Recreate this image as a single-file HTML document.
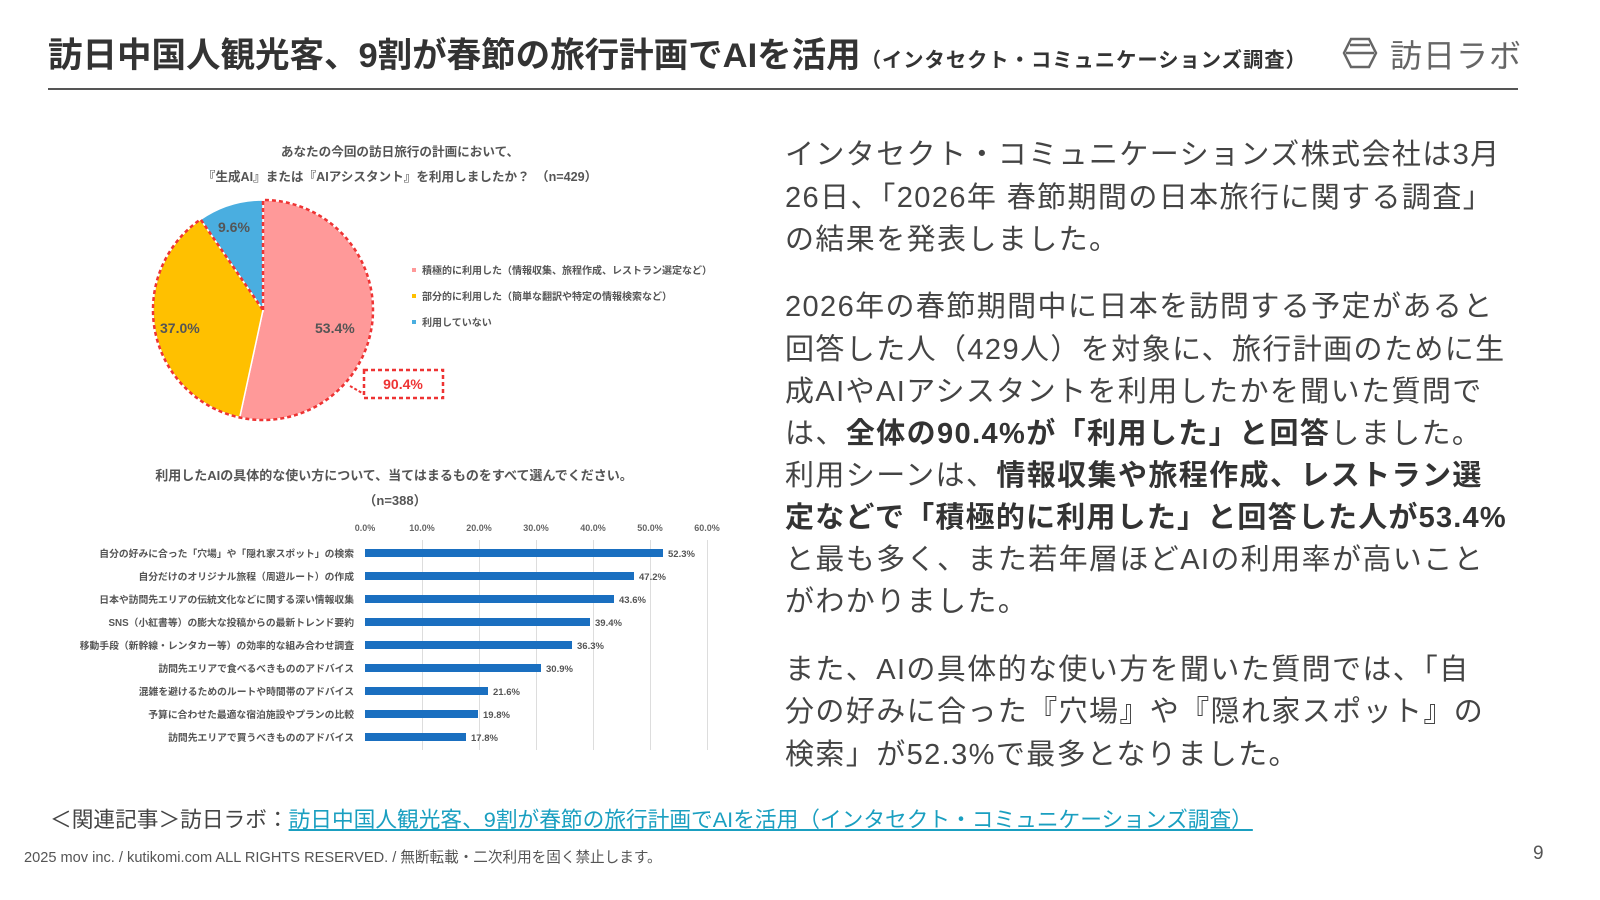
<!DOCTYPE html>
<html><head><meta charset="utf-8"><style>
body{margin:0;width:1600px;height:900px;background:#fff;position:relative;overflow:hidden;font-family:"Liberation Sans","Noto Sans CJK JP",sans-serif;color:#333}
.abs{position:absolute;white-space:nowrap}
.t{font-size:29px;color:#444;letter-spacing:1.4px;left:785px}
b{color:#333}
</style></head><body>
<div class="abs" style="left:48px;top:27px;font-size:34.5px;font-weight:bold;color:#333">訪日中国人観光客、9割が春節の旅行計画でAIを活用<span style="font-size:20.3px;letter-spacing:1px">（インタセクト・コミュニケーションズ調査）</span></div>
<svg class="abs" style="left:1342px;top:36px" width="36" height="34"><path d="M9 3H27L34 17L27 31H9L2 17Z M4 17H32 M8 9H28" fill="none" stroke="#666" stroke-width="2.5"/></svg>
<div class="abs" style="left:1390px;top:31px;font-size:32px;color:#666;letter-spacing:1px">訪日ラボ</div>
<div class="abs" style="left:48px;top:88px;width:1470px;height:2px;background:#555"></div>

<svg class="abs" style="left:0;top:0" width="760" height="780">
<g font-family="Liberation Sans,Noto Sans CJK JP,sans-serif" font-weight="bold" fill="#555">
<text x="400" y="156" font-size="12.6" text-anchor="middle">あなたの今回の訪日旅行の計画において、</text>
<text x="400" y="181" font-size="12.6" text-anchor="middle">『生成AI』または『AIアシスタント』を利用しましたか？　（n=429）</text>
</g>
<path d="M263 310L263 200A110 110 0 1 1 239.7 417.5Z" fill="#ff9999" stroke="#fff" stroke-width="1.5"/>
<path d="M263 310L239.7 417.5A110 110 0 0 1 200.6 219.4Z" fill="#ffc000" stroke="#fff" stroke-width="1.5"/>
<path d="M263 310L200.6 219.4A110 110 0 0 1 263 200Z" fill="#4aaee0" stroke="#fff" stroke-width="1.5"/>
<path d="M263 310L263 200A110 110 0 1 1 200.6 219.4Z" fill="none" stroke="#ee3333" stroke-width="2.5" stroke-dasharray="4 3"/>
<rect x="364" y="370" width="79" height="28" fill="#fff" stroke="#ee3333" stroke-width="2.5" stroke-dasharray="4 3"/>
<path d="M350 386L364 394" stroke="#ee3333" stroke-width="2" stroke-dasharray="3 2"/>
<g font-family="Liberation Sans,sans-serif" font-weight="bold" font-size="14">
<text x="403" y="389" fill="#ee3333" text-anchor="middle">90.4%</text>
<text x="315" y="333" fill="#555">53.4%</text>
<text x="160" y="333" fill="#555">37.0%</text>
<text x="218" y="232" fill="#555">9.6%</text>
</g>
<g font-family="Liberation Sans,Noto Sans CJK JP,sans-serif" font-size="10" fill="#555" font-weight="bold">
<rect x="412" y="268" width="4" height="4" fill="#ff9999"/><text x="422" y="274">積極的に利用した（情報収集、旅程作成、レストラン選定など）</text>
<rect x="412" y="294" width="4" height="4" fill="#ffc000"/><text x="422" y="300">部分的に利用した（簡単な翻訳や特定の情報検索など）</text>
<rect x="412" y="320" width="4" height="4" fill="#4aaee0"/><text x="422" y="326">利用していない</text>
</g>
<g font-family="Liberation Sans,Noto Sans CJK JP,sans-serif" font-weight="bold" fill="#555">
<text x="394" y="480" font-size="13" text-anchor="middle">利用したAIの具体的な使い方について、当てはまるものをすべて選んでください。</text>
<text x="395" y="505" font-size="13" text-anchor="middle">（n=388）</text>
</g>
<g stroke="#ddd" stroke-width="1">
<line x1="422.5" y1="540" x2="422.5" y2="750"/><line x1="479.5" y1="540" x2="479.5" y2="750"/><line x1="536.5" y1="540" x2="536.5" y2="750"/><line x1="593.5" y1="540" x2="593.5" y2="750"/><line x1="650.5" y1="540" x2="650.5" y2="750"/><line x1="707.5" y1="540" x2="707.5" y2="750"/>
</g>
<g font-family="Liberation Sans,sans-serif" font-size="9" fill="#666" font-weight="bold" text-anchor="middle">
<text x="365" y="531">0.0%</text><text x="422" y="531">10.0%</text><text x="479" y="531">20.0%</text><text x="536" y="531">30.0%</text><text x="593" y="531">40.0%</text><text x="650" y="531">50.0%</text><text x="707" y="531">60.0%</text>
</g>
<g fill="#1a6fc0">
<rect x="365" y="549" width="298" height="8"/><rect x="365" y="572" width="269" height="8"/><rect x="365" y="595" width="249" height="8"/><rect x="365" y="618" width="225" height="8"/><rect x="365" y="641" width="207" height="8"/><rect x="365" y="664" width="176" height="8"/><rect x="365" y="687" width="123" height="8"/><rect x="365" y="710" width="113" height="8"/><rect x="365" y="733" width="101" height="8"/>
</g>
<g font-family="Liberation Sans,sans-serif" font-size="9.5" fill="#555" font-weight="bold">
<text x="668" y="557">52.3%</text><text x="639" y="580">47.2%</text><text x="619" y="603">43.6%</text><text x="595" y="626">39.4%</text><text x="577" y="649">36.3%</text><text x="546" y="672">30.9%</text><text x="493" y="695">21.6%</text><text x="483" y="718">19.8%</text><text x="471" y="741">17.8%</text>
</g>
<g font-family="Liberation Sans,Noto Sans CJK JP,sans-serif" font-size="9.8" fill="#555" font-weight="bold" text-anchor="end">
<text x="354" y="557">自分の好みに合った「穴場」や「隠れ家スポット」の検索</text>
<text x="354" y="580">自分だけのオリジナル旅程（周遊ルート）の作成</text>
<text x="354" y="603">日本や訪問先エリアの伝統文化などに関する深い情報収集</text>
<text x="354" y="626">SNS（小紅書等）の膨大な投稿からの最新トレンド要約</text>
<text x="354" y="649">移動手段（新幹線・レンタカー等）の効率的な組み合わせ調査</text>
<text x="354" y="672">訪問先エリアで食べるべきもののアドバイス</text>
<text x="354" y="695">混雑を避けるためのルートや時間帯のアドバイス</text>
<text x="354" y="718">予算に合わせた最適な宿泊施設やプランの比較</text>
<text x="354" y="741">訪問先エリアで買うべきもののアドバイス</text>
</g>
</svg>

<div class="abs t" style="top:131px">インタセクト・コミュニケーションズ株式会社は3月</div>
<div class="abs t" style="top:174px">26日、「2026年 春節期間の日本旅行に関する調査」</div>
<div class="abs t" style="top:216px">の結果を発表しました。</div>
<div class="abs t" style="top:283px">2026年の春節期間中に日本を訪問する予定があると</div>
<div class="abs t" style="top:326px">回答した人（429人）を対象に、旅行計画のために生</div>
<div class="abs t" style="top:368px">成AIやAIアシスタントを利用したかを聞いた質問で</div>
<div class="abs t" style="top:410px">は、<b>全体の90.4%が「利用した」と回答</b>しました。</div>
<div class="abs t" style="top:452px">利用シーンは、<b>情報収集や旅程作成、レストラン選</b></div>
<div class="abs t" style="top:494px;letter-spacing:1.2px"><b>定などで「積極的に利用した」と回答した人が53.4%</b></div>
<div class="abs t" style="top:536px">と最も多く、また若年層ほどAIの利用率が高いこと</div>
<div class="abs t" style="top:578px">がわかりました。</div>
<div class="abs t" style="top:646px">また、AIの具体的な使い方を聞いた質問では、「自</div>
<div class="abs t" style="top:688px">分の好みに合った『穴場』や『隠れ家スポット』の</div>
<div class="abs t" style="top:731px">検索」が52.3%で最多となりました。</div>

<div class="abs" style="left:50px;top:803px;font-size:21.7px;color:#444">＜関連記事＞訪日ラボ：<span style="color:#1a9fc0;text-decoration:underline">訪日中国人観光客、9割が春節の旅行計画でAIを活用（インタセクト・コミュニケーションズ調査）</span></div>
<div class="abs" style="left:24px;top:846px;font-size:14.6px;color:#555">2025 mov inc. / kutikomi.com ALL RIGHTS RESERVED. / 無断転載・二次利用を固く禁止します。</div>
<div class="abs" style="left:1533px;top:843px;font-size:19px;color:#555">9</div>
</body></html>
